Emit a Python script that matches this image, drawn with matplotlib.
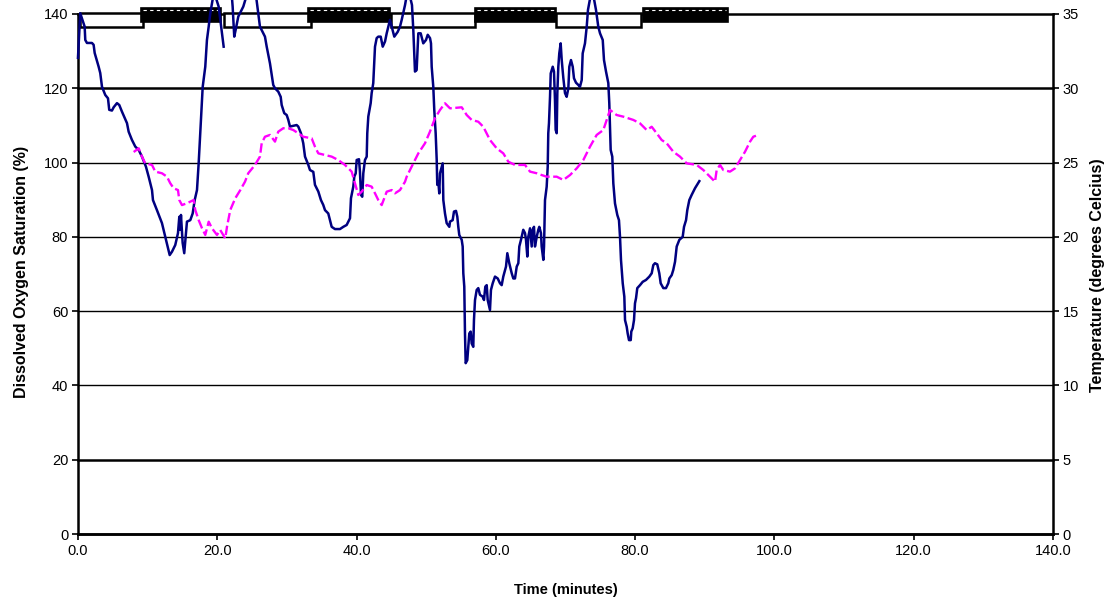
import matplotlib
matplotlib.use('Agg')
import matplotlib.pyplot as plt
from matplotlib.patches import Rectangle
import numpy as np

plt.rcParams['font.family'] = ['Liberation Sans', 'DejaVu Sans']

# Dissolved oxygen saturation (%) vs time (minutes); nan = gap in the record
do_time = [0.0, 0.33, 0.96, 1.05, 1.29, 2.01, 2.25, 2.40, 2.97, 3.20, 3.45, 3.92, 4.31, 4.49, 4.88,
           5.13, 5.60, 5.93, 6.32, 7.04, 7.28, 7.75, 8.23, 8.72, 9.19, 9.76, 10.15, 10.63, 10.77,
           11.34, 12.06, 12.54, 13.17, 13.50, 13.97, 14.36, 14.55, 14.69, 14.79, 15.03, 15.26,
           15.65, 16.13, 16.47, 16.76, 17.09, 17.33, 17.56, 17.81, 17.91, 18.28, 18.52, 18.77,
           19.00, 19.53, 20.20, 20.92, 21.5,
           22.0, 22.21, 22.44, 22.64, 23.02, 23.74, 24.7, 25.56, 26.13, 26.85, 27.10, 27.57, 28.04,
           28.29, 28.76, 29.11, 29.25, 29.62, 29.97, 30.20, 30.44, 30.92, 31.40, 31.63, 32.02,
           32.35, 32.60, 33.07, 33.31, 33.79, 34.03, 34.51, 34.89, 35.22, 35.47, 35.94, 36.19,
           36.43, 36.90, 37.62, 38.10, 38.58, 39.06, 39.20, 39.53, 39.68, 39.88, 40.02, 40.35,
           40.49, 40.64, 40.82, 40.97, 41.21, 41.46, 41.54, 41.69, 42.03, 42.17, 42.40, 42.55,
           42.65, 42.89, 43.12, 43.47, 43.76, 44.09, 44.33, 44.56, 44.80, 45.05, 45.42, 45.91,
           46.24, 46.48, 46.96, 47.39, 47.96, 48.15, 48.39, 48.63, 48.87, 49.21, 49.58, 49.97,
           50.22, 50.55, 50.69, 50.79, 51.02, 51.16, 51.36, 51.51, 51.59, 51.74, 51.88, 51.98,
           52.23, 52.37, 52.46, 52.70, 52.94, 53.32, 53.42, 53.80, 53.99, 54.28, 54.47, 54.61,
           54.75, 55.10, 55.24, 55.33, 55.47, 55.57, 55.67, 55.90, 56.05, 56.19, 56.39, 56.53,
           56.76, 56.86, 57.01, 57.25, 57.48, 57.72, 58.11, 58.30, 58.49, 58.69, 58.83, 59.16,
           59.30, 59.55, 59.88, 60.27, 60.60, 60.84, 61.07, 61.46, 61.65, 61.93, 62.28, 62.51,
           62.75, 63.00, 63.23, 63.37, 63.61, 63.94, 64.19, 64.33, 64.52, 64.66, 64.91, 65.15,
           65.29, 65.48, 65.62, 65.87, 66.10, 66.24, 66.48, 66.58, 66.82, 66.92, 67.06, 67.30,
           67.45, 67.53, 67.63, 67.78, 67.88, 68.17, 68.35, 68.49, 68.59, 68.74, 68.83, 68.97,
           69.11, 69.31, 69.46, 69.69, 69.93, 70.17, 70.41, 70.55, 70.79, 71.04, 71.22, 71.51,
           71.84, 72.08, 72.33, 72.47, 72.80, 73.05, 73.23, 73.81, 74.38, 74.71, 74.96, 75.35,
           75.53, 75.82, 76.15, 76.29, 76.39, 76.49, 76.72, 76.87, 77.11, 77.44, 77.68, 77.83,
           77.97, 78.22, 78.45, 78.55, 78.79, 78.93, 79.12, 79.37, 79.45, 79.65, 79.84, 79.98,
           80.13, 80.31, 80.70, 81.09, 81.56, 82.04, 82.38, 82.61, 82.85, 83.18, 83.47, 83.67,
           84.05, 84.43, 84.76, 84.91, 85.25, 85.48, 85.73, 85.97, 86.35, 86.83, 87.02, 87.31,
           87.49, 87.78, 88.12, 88.60, 89.22]
do_sat = [128.2, 140.2, 136.6, 133.0, 132.2, 132.2, 131.7, 129.5, 125.8, 124.1, 120.4, 118.2, 117.3, 114.2, 114.0,
          114.9, 116.0, 115.5, 113.7, 110.6, 108.3, 106.1, 104.3, 103.4, 101.6, 98.9, 96.2, 92.6, 89.9,
          87.2, 83.7, 80.0, 75.1, 76.0, 77.8, 81.0, 85.4, 81.9, 85.9, 78.4, 75.6,
          84.1, 84.5, 86.3, 89.9, 92.6, 99.8, 107.9, 116.9, 120.4, 125.8, 133.0, 136.6,
          140.2, 146.0, 142.0, 131.2, np.nan,
          147.0, 142.0, 133.9, 135.7, 139.3, 142.0, 148.0, 145.0, 136.6, 133.9, 131.2, 126.7, 120.9,
          120.0, 119.1, 117.7, 115.5, 113.3, 112.8, 111.5, 109.7, 109.9, 110.1, 109.7, 107.9,
          105.2, 101.6, 99.4, 98.0, 97.5, 94.0, 92.2, 89.9, 88.6, 87.2, 86.3, 84.5,
          82.7, 82.1, 82.1, 82.7, 83.2, 85.0, 90.4, 93.5, 96.2, 97.1, 100.7, 100.9,
          97.5, 91.3, 90.8, 97.1, 100.7, 101.6, 107.9, 112.4, 116.0, 118.7, 121.4, 127.6,
          131.2, 133.5, 133.9, 133.9, 131.2, 132.6, 134.8, 136.6, 138.4, 136.6, 133.9, 135.2,
          136.6, 138.4, 142.4, 147.0, 142.4, 135.7, 124.5, 124.9, 134.8, 134.8, 132.1, 133.0,
          134.4, 133.5, 132.1, 125.8, 120.4, 114.2, 107.9, 100.7, 94.0, 94.9, 91.7, 97.1,
          98.9, 99.8, 89.9, 86.3, 83.7, 82.7, 84.1, 84.5, 86.8, 87.0, 85.4, 82.7,
          80.5, 79.2, 77.4, 70.2, 66.6, 54.0, 46.0, 46.8, 50.4, 54.0, 54.5, 51.3,
          50.4, 57.6, 63.0, 65.7, 66.2, 64.4, 63.9, 63.0, 66.6, 67.0, 63.0, 60.3,
          65.7, 67.5, 69.3, 68.8, 67.5, 67.0, 69.3, 72.0, 75.6, 72.9, 70.2, 68.8,
          68.8, 72.0, 72.9, 77.4, 79.2, 81.9, 81.0, 79.2, 74.7, 80.0, 82.3, 77.4,
          81.9, 82.7, 77.4, 80.0, 81.9, 82.7, 81.0, 77.4, 73.8, 77.4, 89.9, 93.5,
          98.9, 107.9, 110.6, 117.7, 124.0, 125.8, 124.5, 116.9, 108.8, 107.9, 118.7, 125.8,
          129.4, 132.1, 127.6, 122.8, 118.7, 117.7, 120.0, 125.8, 127.6, 125.8, 122.7, 121.5,
          120.9, 120.4, 122.2, 129.4, 132.1, 136.6, 141.1, 147.0, 141.1, 136.6, 134.8, 133.0,
          127.6, 124.5, 121.4, 116.0, 109.7, 103.4, 101.6, 94.4, 89.0, 85.9, 84.5, 80.0,
          73.8, 67.5, 63.9, 57.6, 55.8, 54.0, 52.2, 52.2, 54.5, 55.4, 57.6, 62.1,
          63.5, 66.2, 67.0, 67.9, 68.4, 69.3, 70.2, 72.4, 72.9, 72.6, 70.2, 67.5,
          66.2, 66.2, 67.5, 68.8, 69.7, 71.1, 73.3, 77.4, 79.2, 80.0, 82.7, 84.5,
          87.2, 89.9, 91.3, 93.1, 95.0]

# Water temperature (degrees Celcius) vs time (minutes)
temp_time = [8.0, 8.72, 9.19, 9.66, 10.63, 11.10, 12.06, 12.78, 13.25, 13.74, 14.36, 14.55, 14.93,
             15.65, 16.13, 16.61, 16.84, 17.33, 17.81, 18.28, 18.77, 19.24, 19.96, 20.43, 21.15,
             21.40, 21.87, 22.59, 23.31, 23.98, 24.45, 25.42, 26.13, 26.38, 26.85, 27.57, 28.29,
             28.76, 29.48, 30.20, 30.92, 31.63, 32.35, 33.56, 34.03, 34.51, 35.47, 36.43, 37.38,
             38.34, 39.30, 39.77, 40.25, 40.74, 41.46, 42.17, 42.65, 43.12, 43.61, 44.33, 45.05,
             45.52, 46.24, 46.96, 47.20, 48.15, 48.87, 49.83, 50.54, 51.26, 51.98, 52.70, 53.42,
             55.10, 55.82, 56.53, 57.48, 58.20, 59.16, 60.12, 61.07, 61.79, 62.75, 64.19, 64.91,
             65.87, 66.58, 67.30, 68.74, 69.69, 70.65, 71.61, 72.56, 73.52, 74.48, 75.43, 75.92,
             76.39, 77.35, 78.30, 79.74, 80.70, 81.66, 82.38, 83.10, 83.81, 84.53, 85.48, 86.44,
             87.40, 88.84, 89.79, 90.75, 91.47, 91.71, 92.19, 92.66, 93.62, 94.34, 95.06, 95.78,
             96.50, 96.97, 97.69]
temp_c = [25.71, 25.96, 25.40, 24.95, 24.84, 24.39, 24.28, 24.05, 23.61, 23.27, 23.15, 22.48, 22.14,
          22.26, 22.37, 22.48, 21.81, 21.13, 20.58, 20.13, 21.02, 20.58, 20.13, 20.46, 19.90,
          20.68, 21.81, 22.60, 23.15, 23.71, 24.28, 24.84, 25.40, 26.30, 26.74, 26.86, 26.41,
          27.08, 27.31, 27.31, 27.19, 26.97, 26.74, 26.63, 26.07, 25.62, 25.51, 25.40, 25.17,
          24.84, 24.39, 23.61, 22.82, 23.04, 23.49, 23.38, 22.93, 22.48, 22.14, 23.04, 23.15,
          22.93, 23.15, 23.71, 24.05, 24.95, 25.62, 26.30, 27.08, 27.98, 28.54, 28.99, 28.65,
          28.72, 28.20, 27.87, 27.75, 27.41, 26.52, 25.96, 25.62, 25.06, 24.84, 24.84, 24.39,
          24.28, 24.16, 24.05, 24.05, 23.83, 24.16, 24.61, 25.17, 26.07, 26.86, 27.19, 27.87,
          28.54, 28.20, 28.09, 27.87, 27.64, 27.19, 27.41, 26.97, 26.52, 26.30, 25.73, 25.40,
          24.95, 24.84, 24.50, 24.05, 23.71, 24.50, 24.84, 24.50, 24.39, 24.61, 25.17, 25.73,
          26.41, 26.74, 26.86]

# light / dark periods (minutes)
light_start = [0.3, 21.0, 45.0, 68.7]
light_end = [9.3, 33.4, 57.0, 80.8]
dark_start = [9.05, 33.0, 57.0, 81.1]
dark_end = [20.6, 44.8, 68.6, 93.3]

fig = plt.figure(figsize=(11.09, 6.03), dpi=100)
ax = fig.add_axes([0.0703, 0.1144, 0.8792, 0.8624])
ax2 = ax.twinx()

ax.set_xlim(0, 140)
ax.set_ylim(0, 140)
ax2.set_ylim(0, 35)

# horizontal gridlines
for v in range(20, 141, 20):
    lw = 1.8 if v in (20, 120, 140) else 1.0
    ax.axhline(v, color='black', lw=lw, zorder=1, clip_on=False)

# light (white) and dark (black) bars at the top
for s, e in zip(light_start, light_end):
    ax.add_patch(Rectangle((s, 136.6), e - s, 3.6, facecolor='white', edgecolor='black',
                           lw=1.8, zorder=3, clip_on=False))
for s, e in zip(dark_start, dark_end):
    ax.add_patch(Rectangle((s, 137.9), e - s, 3.6, facecolor='black', edgecolor='black',
                           lw=1.2, zorder=3, clip_on=False))
    ax.plot([s + 0.3, e - 0.3], [141.0, 141.0], color='white', lw=0.8,
            dashes=(3, 3), zorder=3.5, clip_on=False)

ax.plot(do_time, do_sat, color='#000080', lw=1.8, zorder=5, clip_on=False)
ax2.plot(temp_time, temp_c, color='#FF00FF', lw=1.7, dashes=(4, 1.5), zorder=4)

ax.set_xticks(range(0, 141, 20))
ax.set_xticklabels([f'{v:.1f}' for v in range(0, 141, 20)])
ax.set_yticks(range(0, 141, 20))
ax2.set_yticks(range(0, 36, 5))

for a in (ax, ax2):
    a.tick_params(labelsize=10.5, length=4, width=1.2, direction='out', pad=3)
    a.spines['top'].set_visible(False)
    for sp in ('left', 'right', 'bottom'):
        a.spines[sp].set_linewidth(1.8)
ax.tick_params(axis='x', pad=3)
ax2.spines['left'].set_visible(False)
ax.spines['right'].set_visible(False)

ax.set_xlabel('Time (minutes)', fontsize=10.5, fontweight='bold')
ax.set_ylabel('Dissolved Oxygen Saturation (%)', fontsize=11.5, fontweight='bold')
ax2.set_ylabel('Temperature (degrees Celcius)', fontsize=11.5, fontweight='bold')
ax.xaxis.label.set_verticalalignment('center')
ax.yaxis.label.set_verticalalignment('center')
ax2.yaxis.label.set_verticalalignment('center')
ax.xaxis.set_label_coords(0.5, -0.108)
ax.yaxis.set_label_coords(-0.0574, 0.504)
ax2.yaxis.set_label_coords(1.046, 0.497)

fig.savefig('out.png', dpi=100)
